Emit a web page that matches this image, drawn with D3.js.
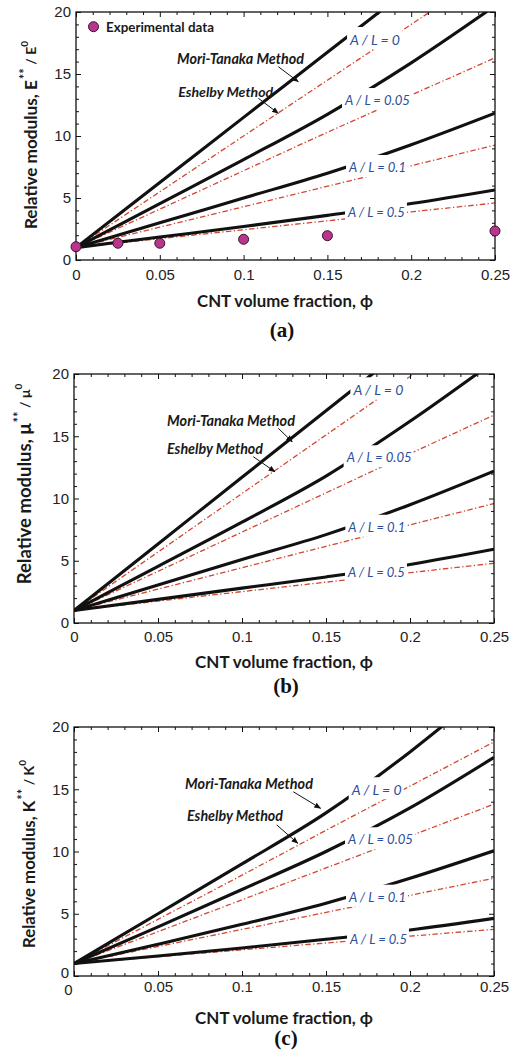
<!DOCTYPE html>
<html><head><meta charset="utf-8">
<script src="https://cdn.jsdelivr.net/npm/d3@7"></script>
<style>body{margin:0;background:#fff}svg{display:block}</style>
</head><body>
<svg id="chart" width="513" height="1059"></svg>
<script>
// ---------------- DATA ----------------
const phi = [0, 0.05, 0.1, 0.15, 0.2, 0.25];
const xTickValues = [0, 0.05, 0.1, 0.15, 0.2, 0.25];
const xTickLabels = ["0", "0.05", "0.1", "0.15", "0.2", "0.25"];
const yTickValues = [0, 5, 10, 15, 20];
const yTickLabels = ["0", "5", "10", "15", "20"];
const aspectLabels = ["A / L = 0", "A / L = 0.05", "A / L = 0.1", "A / L = 0.5"];

// (a) Young's modulus E**/E0 ; rows: A/L = 0, 0.05, 0.1, 0.5
const moriTanakaE = [
  [1, 6.25, 11.5, 16.75, 22.0, 27.25],
  [1, 4.55, 8.1, 11.75, 15.9, 20.5],
  [1, 3.0, 5.0, 7.0, 9.3, 11.85],
  [1, 1.85, 2.7, 3.6, 4.55, 5.65]
];
const eshelbyE = [
  [1, 5.5, 10.0, 14.5, 19.0, 23.5],
  [1, 4.1, 7.2, 10.3, 13.3, 16.3],
  [1, 2.65, 4.3, 5.95, 7.6, 9.27],
  [1, 1.72, 2.44, 3.16, 3.88, 4.6]
];
const expPhi = [0, 0.025, 0.05, 0.1, 0.15, 0.25];
const expE = [1.07, 1.35, 1.35, 1.67, 1.96, 2.34];

// (b) shear modulus mu**/mu0
const moriTanakaMu = [
  [1, 6.35, 11.7, 17.05, 22.4, 27.75],
  [1, 4.55, 8.1, 11.8, 16.2, 21.0],
  [1, 3.05, 5.1, 7.1, 9.5, 12.2],
  [1, 1.9, 2.8, 3.7, 4.7, 5.92]
];
const eshelbyMu = [
  [1, 5.7, 10.4, 15.1, 19.8, 24.5],
  [1, 4.15, 7.3, 10.45, 13.6, 16.7],
  [1, 2.72, 4.44, 6.16, 7.88, 9.6],
  [1, 1.76, 2.52, 3.28, 4.04, 4.8]
];

// (c) bulk modulus K**/K0
const moriTanakaK = [
  [1, 5.0, 9.0, 13.1, 18.0, 23.5],
  [1, 3.95, 6.95, 10.0, 13.5, 17.56],
  [1, 2.55, 4.15, 5.85, 7.85, 10.06],
  [1, 1.6, 2.25, 2.95, 3.7, 4.63]
];
const eshelbyK = [
  [1, 4.55, 8.1, 11.7, 15.25, 18.8],
  [1, 3.56, 6.12, 8.68, 11.24, 13.8],
  [1, 2.37, 3.74, 5.11, 6.48, 7.85],
  [1, 1.55, 2.1, 2.65, 3.2, 3.75]
];

// ---------------- LAYOUT ----------------
const panels = [
  { id: "a", sym: "E", mt: moriTanakaE, es: eshelbyE, exp: true,
    box: {l: 76, r: 495, t: 12, b: 260}, xPad: 9,
    labelPos: [[0.1635, 17.82], [0.1605, 12.9], [0.1629, 7.5], [0.1623, 3.87]],
    labelW: [50, 65, 57, 57],
    mtText: [0.0603, 16.27], mtArrow: [[0.1207, 15.59], [0.1326, 14.38]],
    esText: [0.061, 13.57], esArrow: [[0.1088, 13.04], [0.1207, 11.83]],
    mtW: 127, esW: 95,
    yTitle: {cx: 30, cy: 135, len: 196}, xTitle: {cx: 285, cy: 300, len: 176},
    tag: {cx: 282, cy: 330} },
  { id: "b", sym: "\u03bc", mt: moriTanakaMu, es: eshelbyMu, exp: false,
    box: {l: 74, r: 494, t: 374, b: 623}, xPad: 8,
    labelPos: [[0.1663, 18.77], [0.1623, 13.31], [0.1633, 7.73], [0.1631, 4.07]],
    labelW: [50, 65, 57, 57],
    mtText: [0.0554, 16.3], mtArrow: [[0.1216, 15.64], [0.1299, 14.56]],
    esText: [0.0554, 14.03], esArrow: [[0.1067, 13.36], [0.1196, 12.15]],
    mtW: 128, esW: 96,
    yTitle: {cx: 24, cy: 484, len: 212}, xTitle: {cx: 284, cy: 661, len: 178},
    tag: {cx: 286, cy: 686} },
  { id: "c", sym: "K", mt: moriTanakaK, es: eshelbyK, exp: false,
    box: {l: 74, r: 494, t: 727, b: 976}, xPad: 5,
    labelPos: [[0.1653, 15.0], [0.1631, 10.98], [0.1637, 6.37], [0.1643, 2.95]],
    labelW: [50, 65, 57, 57],
    mtText: [0.0661, 15.5], mtArrow: [[0.1305, 14.8], [0.1468, 13.47]],
    esText: [0.0673, 12.88], esArrow: [[0.1207, 12.13], [0.1332, 10.66]],
    mtW: 128, esW: 96,
    yTitle: {cx: 28, cy: 854, len: 195}, xTitle: {cx: 284, cy: 1017, len: 178},
    tag: {cx: 286, cy: 1038} }
];

const FONT_TICK = "'Liberation Sans', Arial, sans-serif";
const FONT_CAL = "Lato, 'Open Sans', sans-serif";
const RED = "#d2472f";
const BLUE = "#2c4f9b";
const MAGENTA = "#b8378c";

const svg = d3.select("#chart");
const defs = svg.append("defs");
defs.append("marker").attr("id", "arrow").attr("viewBox", "0 0 10 10")
  .attr("refX", 9).attr("refY", 5).attr("markerWidth", 7).attr("markerHeight", 7)
  .attr("markerUnits", "userSpaceOnUse").attr("orient", "auto")
  .append("path").attr("d", "M0,1 L10,5 L0,9 Z").attr("fill", "#111");

function fit(sel, target) {
  const node = sel.node();
  const fs = parseFloat(sel.attr("font-size"));
  const w = node.getComputedTextLength();
  if (w > 0) sel.attr("font-size", (fs * target / w).toFixed(2));
  return sel;
}

panels.forEach(p => {
  const B = p.box;
  const x = d3.scaleLinear().domain([0, 0.25]).range([B.l, B.r]);
  const y = d3.scaleLinear().domain([0, 20]).range([B.b, B.t]);
  const g = svg.append("g");

  defs.append("clipPath").attr("id", "clip-" + p.id).append("rect")
    .attr("x", B.l).attr("y", B.t).attr("width", B.r - B.l).attr("height", B.b - B.t);
  const plot = g.append("g").attr("clip-path", `url(#clip-${p.id})`);

  const line = d3.line().x((d, i) => x(phi[i])).y(d => y(d)).curve(d3.curveMonotoneX);

  p.es.forEach(s => plot.append("path").attr("d", line(s)).attr("fill", "none")
    .attr("stroke", RED).attr("stroke-width", 1.3).attr("stroke-dasharray", "5.5,2.4,1.3,2.4"));
  p.mt.forEach(s => plot.append("path").attr("d", line(s)).attr("fill", "none")
    .attr("stroke", "#111").attr("stroke-width", 3.1));

  // aspect-ratio labels on white boxes
  aspectLabels.forEach((lab, i) => {
    const lg = plot.append("g");
    const rect = lg.append("rect").attr("fill", "#fff");
    const t = lg.append("text").text(lab)
      .attr("x", x(p.labelPos[i][0])).attr("y", y(p.labelPos[i][1]))
      .attr("dominant-baseline", "central")
      .attr("font-family", FONT_CAL).attr("font-style", "italic")
      .attr("font-size", 11).attr("fill", BLUE);
    fit(t, p.labelW[i]);
    const bb = t.node().getBBox();
    const cy = y(p.labelPos[i][1]);
    rect.attr("x", bb.x - 2).attr("width", bb.width + 4)
      .attr("y", cy - 12).attr("height", 22);
  });

  // ticks (inward on all sides)
  const xMinor = d3.range(0, 26).map(d => d / 100).filter(v => Math.round(v * 100) % 5 !== 0);
  const yMinor = d3.range(0, 21).filter(v => v % 5 !== 0);
  const strip = s => s.select(".domain").remove();
  const tickStyle = s => s.selectAll("line").attr("stroke", "#111").attr("stroke-width", 1);

  g.append("g").attr("transform", `translate(0,${B.b})`)
    .call(d3.axisBottom(x).tickValues(xMinor).tickSize(-3).tickFormat(""))
    .call(strip).call(tickStyle);
  g.append("g").attr("transform", `translate(0,${B.t})`)
    .call(d3.axisTop(x).tickValues(xMinor).tickSize(-3).tickFormat(""))
    .call(strip).call(tickStyle);
  g.append("g").attr("transform", `translate(${B.l},0)`)
    .call(d3.axisLeft(y).tickValues(yMinor).tickSize(-3).tickFormat(""))
    .call(strip).call(tickStyle);
  g.append("g").attr("transform", `translate(${B.r},0)`)
    .call(d3.axisRight(y).tickValues(yMinor).tickSize(-3).tickFormat(""))
    .call(strip).call(tickStyle);

  const xb = g.append("g").attr("transform", `translate(0,${B.b})`)
    .call(d3.axisBottom(x).tickValues(xTickValues).tickSize(-5).tickPadding(p.xPad)
      .tickFormat((d, i) => xTickLabels[i]))
    .call(strip).call(tickStyle);
  xb.selectAll("text").attr("font-family", FONT_TICK).attr("font-size", 15).attr("fill", "#222");
  if (p.id === "c") xb.selectAll("text").filter((d, i) => i === 0).attr("dx", -6).attr("dy", "0.95em");

  g.append("g").attr("transform", `translate(0,${B.t})`)
    .call(d3.axisTop(x).tickValues(xTickValues).tickSize(-5).tickFormat(""))
    .call(strip).call(tickStyle);
  const yl = g.append("g").attr("transform", `translate(${B.l},0)`)
    .call(d3.axisLeft(y).tickValues(yTickValues).tickSize(-5).tickPadding(5)
      .tickFormat((d, i) => yTickLabels[i]))
    .call(strip).call(tickStyle);
  yl.selectAll("text").attr("font-family", FONT_TICK).attr("font-size", 15).attr("fill", "#222");
  if (p.id === "c") yl.selectAll("text").filter((d, i) => i === 0).attr("dy", "0.1em");
  g.append("g").attr("transform", `translate(${B.r},0)`)
    .call(d3.axisRight(y).tickValues(yTickValues).tickSize(-5).tickFormat(""))
    .call(strip).call(tickStyle);

  // frame
  g.append("rect").attr("x", B.l).attr("y", B.t).attr("width", B.r - B.l).attr("height", B.b - B.t)
    .attr("fill", "none").attr("stroke", "#111").attr("stroke-width", 1.3);

  // method annotations
  const ann = (txt, pos, w, arr) => {
    const t = g.append("text").text(txt).attr("x", x(pos[0])).attr("y", y(pos[1]))
      .attr("dominant-baseline", "central").attr("font-family", FONT_CAL)
      .attr("font-weight", "bold").attr("font-style", "italic").attr("font-size", 12).attr("fill", "#1a1a1a");
    fit(t, w);
    g.append("line").attr("x1", x(arr[0][0])).attr("y1", y(arr[0][1]))
      .attr("x2", x(arr[1][0])).attr("y2", y(arr[1][1]))
      .attr("stroke", "#111").attr("stroke-width", 1).attr("marker-end", "url(#arrow)");
  };
  ann("Mori-Tanaka Method", p.mtText, p.mtW, p.mtArrow);
  ann("Eshelby Method", p.esText, p.esW, p.esArrow);

  // experimental data + legend
  if (p.exp) {
    g.selectAll("circle.exp").data(expE).enter().append("circle").attr("class", "exp")
      .attr("cx", (d, i) => x(expPhi[i])).attr("cy", d => y(d)).attr("r", 5)
      .attr("fill", MAGENTA).attr("stroke", "#3a1030").attr("stroke-width", 1);
    g.append("circle").attr("cx", 93.5).attr("cy", 26.7).attr("r", 5)
      .attr("fill", MAGENTA).attr("stroke", "#3a1030").attr("stroke-width", 1);
    const lt = g.append("text").text("Experimental data").attr("x", 106).attr("y", 27)
      .attr("dominant-baseline", "central").attr("font-family", FONT_CAL)
      .attr("font-weight", "bold").attr("font-size", 12).attr("fill", "#1a1a1a");
    fit(lt, 108);
  }

  // y title
  const yt = g.append("text").attr("transform", `translate(${p.yTitle.cx},${p.yTitle.cy}) rotate(-90)`)
    .attr("text-anchor", "middle").attr("dominant-baseline", "central")
    .attr("font-family", FONT_CAL).attr("font-weight", "bold").attr("font-size", 14).attr("fill", "#1a1a1a");
  yt.append("tspan").text("Relative modulus, " + p.sym);
  yt.append("tspan").text("**").attr("dy", -6).attr("dx", 1).attr("font-size", 13);
  yt.append("tspan").text(" / " + p.sym).attr("dy", 6).attr("font-size", 14);
  yt.append("tspan").text("0").attr("dy", -6).attr("font-size", 10);
  fit(yt, p.yTitle.len);

  // x title
  const xt = g.append("text").text("CNT volume fraction, \u03d5")
    .attr("x", p.xTitle.cx).attr("y", p.xTitle.cy).attr("text-anchor", "middle")
    .attr("dominant-baseline", "central").attr("font-family", FONT_CAL)
    .attr("font-weight", "bold").attr("font-size", 14).attr("fill", "#1a1a1a");
  fit(xt, p.xTitle.len);

  // panel tag
  g.append("text").text("(" + p.id + ")").attr("x", p.tag.cx).attr("y", p.tag.cy)
    .attr("text-anchor", "middle").attr("dominant-baseline", "central")
    .attr("font-family", "'Liberation Serif', 'DejaVu Serif', serif").attr("font-weight", "bold")
    .attr("font-size", 21).attr("fill", "#111");
});
</script>
</body></html>
